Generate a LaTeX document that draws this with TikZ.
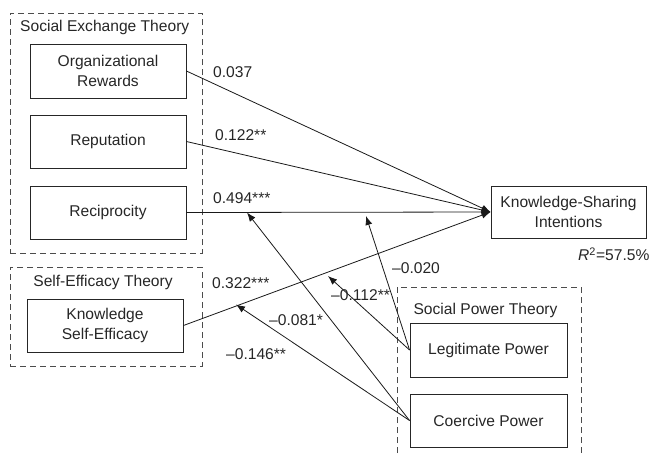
\documentclass[tikz,border=0pt]{standalone}
\usepackage{fontspec}
\setmainfont{Liberation Sans}
\usetikzlibrary{arrows.meta}
\begin{document}
\begin{tikzpicture}[x=1pt,y=-1pt,
  every node/.style={font=\fontsize{15.6}{19.5}\selectfont, text=black!85},
  var/.style={draw=black!85, line width=0.9pt, align=center, inner sep=0pt},
  grp/.style={draw=black!70, line width=0.9pt, dash pattern=on 6pt off 4pt},
  lab/.style={anchor=west, inner sep=0pt},
  path/.style={draw=black!90, line width=0.8pt, -{Latex[length=9pt,width=7pt]}}
]
\useasboundingbox (0,0) rectangle (652,453);
% group boxes
\node[grp, minimum width=192pt, minimum height=240pt] (setbox) at (106,133) {};
\node[grp, minimum width=192pt, minimum height=99pt] (sefbox) at (106,316.5) {};
\draw[grp] (397,453) -- (397,287) -- (581,287) -- (581,453);
\node[lab] (setlab) at (20,27) {Social Exchange Theory};
\node (seflab) at (103,282) {Self-Efficacy Theory};
\node (sptlab) at (485.5,310) {Social Power Theory};
% variables
\node[var, minimum width=156pt, minimum height=54pt] (or) at (108,71) {Organizational\\Rewards};
\node[var, minimum width=156pt, minimum height=53pt] (rep) at (108,141.5) {Reputation};
\node[var, minimum width=156pt, minimum height=53pt] (rec) at (108,212.5) {Reciprocity};
\node[var, minimum width=156pt, minimum height=53pt] (kse) at (105,325.5) {Knowledge\\Self-Efficacy};
\node[var, minimum width=155pt, minimum height=52pt] (ksi) at (568.5,212) {Knowledge-Sharing\\Intentions};
\node[var, minimum width=157pt, minimum height=54pt] (lp) at (488.5,350) {Legitimate Power};
\node[var, minimum width=157pt, minimum height=53pt] (cp) at (488.5,420.5) {Coercive Power};
% moderation targets
\coordinate (m1) at (366,216);
\coordinate (m2) at (328,276);
\coordinate (m3) at (247,212.5);
\coordinate (m4) at (236,304.5);
% paths
\draw[path] (or.east) -- (ksi.west);
\draw[path] (rep.east) -- (ksi.west);
\draw[path] (rec.east) -- (ksi.west);
\draw[path] (kse.east) -- (ksi.west);
\draw[path] (lp.west) -- (m1);
\draw[path] (lp.west) -- (m2);
\draw[path] (cp.west) -- (m3);
\draw[path] (cp.west) -- (m4);
% labels
\node[lab] (l1) at (213,72) {0.037};
\node[lab] (l2) at (215,135) {0.122**};
\node[lab] (l3) at (213,198) {0.494***};
\node[lab] (l4) at (212,283) {0.322***};
\node[lab] (l5) at (269,320) {–0.081*};
\node[lab] (l6) at (226,354) {–0.146**};
\node[lab] (l7) at (392,268) {–0.020};
\node[lab] (l8) at (331,295) {–0.112**};
\node[lab] (r2) at (578,254) {\textit{R}\textsuperscript{2}=57.5\%};
\end{tikzpicture}
\end{document}
